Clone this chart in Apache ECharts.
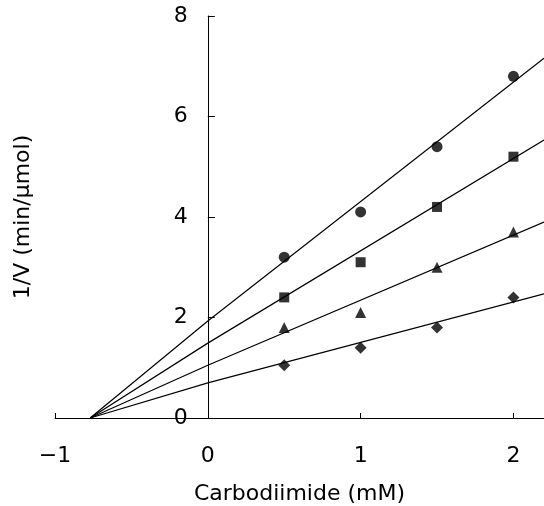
<!DOCTYPE html>
<html>
<head>
<meta charset="utf-8">
<script src="https://cdn.jsdelivr.net/npm/echarts@6/dist/echarts.min.js"></script>
<style>html,body{margin:0;padding:0;background:#fff;}#c{width:544px;height:506px;}</style>
</head>
<body>
<div id="c"></div>
<script>
const xPoints = [0.5, 1, 1.5, 2];
const circleVals = [3.2, 4.1, 5.4, 6.8];
const squareVals = [2.4, 3.1, 4.2, 5.2];
const triangleVals = [1.8, 2.1, 3.0, 3.7];
const diamondVals = [1.05, 1.4, 1.8, 2.4];

const lineX = [-0.77, 0, 2.2];
const circleLine = [0, 1.93, 7.16];
const squareLine = [0, 1.49, 5.53];
const triangleLine = [0, 1.05, 3.9];
const diamondLine = [0, 0.70, 2.47];

const xTicks = [-1, 0, 1, 2];
const yTicks = [0, 2, 4, 6, 8];

const FONT = 'DejaVu Sans';
const pair = (xs, ys) => xs.map((x, i) => [x, ys[i]]);

function lineSeries(vals) {
  return { type: 'line', data: pair(lineX, vals), symbol: 'none', silent: true,
    lineStyle: { color: '#000', width: 1.2 }, z: 2 };
}
function scatterSeries(vals, symbol, size) {
  return { type: 'scatter', data: pair(xPoints, vals), symbol: symbol, symbolSize: size,
    itemStyle: { color: '#000' }, z: 3 };
}

const chart = echarts.init(document.getElementById('c'));
chart.setOption({
  animation: false,
  backgroundColor: '#fff',
  grid: { left: 55, right: 0, top: 16, bottom: 88, containLabel: false, outerBoundsMode: 'none' },
  xAxis: {
    type: 'value', min: -1, max: 2.2, interval: 1,
    name: 'Carbodiimide (mM)', nameLocation: 'middle', nameGap: 65,
    nameTextStyle: { fontFamily: FONT, fontSize: 22, color: '#000' },
    axisLine: { onZero: false, lineStyle: { color: '#000', width: 1 } },
    axisTick: { inside: true, length: 5, lineStyle: { color: '#000' },
      customValues: xTicks },
    axisLabel: { fontFamily: FONT, fontSize: 22, color: '#000', margin: 27,
      customValues: xTicks,
      formatter: v => (v < 0 ? '\u2212' + Math.abs(v) : String(v)) },
    splitLine: { show: false }
  },
  yAxis: {
    type: 'value', min: 0, max: 8, interval: 2,
    offset: -152.8,
    name: '1/V (min/\u00b5mol)', nameLocation: 'middle', nameGap: 174,
    nameTextStyle: { fontFamily: FONT, fontSize: 22, color: '#000' },
    axisLine: { onZero: false, lineStyle: { color: '#000', width: 1 } },
    axisTick: { inside: true, length: 7, lineStyle: { color: '#000' } },
    axisLabel: { fontFamily: FONT, fontSize: 22, color: '#000', margin: 20,
      customValues: yTicks },
    splitLine: { show: false }
  },
  series: [
    lineSeries(circleLine),
    lineSeries(squareLine),
    lineSeries(triangleLine),
    lineSeries(diamondLine),
    scatterSeries(circleVals, 'circle', 11),
    scatterSeries(squareVals, 'rect', 10),
    scatterSeries(triangleVals, 'triangle', 11),
    scatterSeries(diamondVals, 'diamond', 12)
  ]
});
</script>
</body>
</html>
